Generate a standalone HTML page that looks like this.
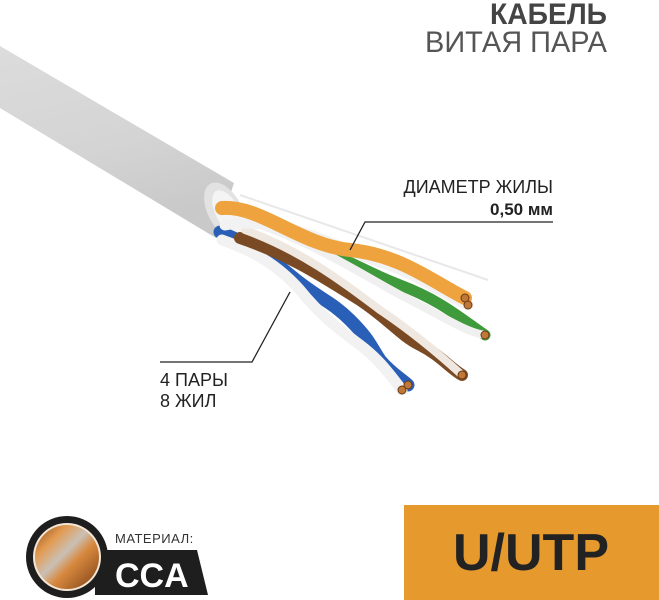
<!DOCTYPE html>
<html><head><meta charset="utf-8"><style>
body{margin:0;width:659px;height:600px;background:#fff;overflow:hidden;font-family:"Liberation Sans","DejaVu Sans",sans-serif}
svg{position:absolute;left:0;top:0}
</style></head><body>
<svg width="659" height="600" viewBox="0 0 659 600">
<defs>
<linearGradient id="jk" x1="0" y1="0" x2="0.3" y2="1">
<stop offset="0" stop-color="#dcdcdc"/><stop offset="0.6" stop-color="#d4d4d4"/><stop offset="1" stop-color="#c9c9c9"/></linearGradient>
<linearGradient id="cu" x1="0" y1="0" x2="1" y2="1">
<stop offset="0" stop-color="#8a4a1a"/><stop offset="0.25" stop-color="#e39a50"/><stop offset="0.45" stop-color="#c9c0b6"/><stop offset="0.6" stop-color="#d8893f"/><stop offset="1" stop-color="#7a3e14"/></linearGradient>
</defs>
<!-- jacket -->
<path d="M0,46 L234,183 L216,238 L0,108 Z" fill="url(#jk)"/>
<ellipse cx="225" cy="211" rx="17" ry="31" transform="rotate(-28 225 211)" fill="#e2e2e2"/>
<ellipse cx="228" cy="213" rx="12" ry="25" transform="rotate(-28 228 213)" fill="#f4f4f4"/>
<!-- rip cord -->
<path d="M240,195 L488,280" stroke="#e8e8e8" stroke-width="2" fill="none"/>
<!-- wires -->
<g fill="none" stroke-linecap="round">
<path d="M220,232 C250,245 260,250 290,275 C320,300 330,300 350,320 C370,340 370,345 380,360 C390,372 400,378 408,385" stroke="#2a5fb8" stroke-width="13"/>
<path d="M222,240 C250,250 275,262 300,290 C320,315 340,330 360,345 C380,360 390,375 402,390" stroke="#f2f2f2" stroke-width="11"/>
<path d="M240,238 C290,255 320,275 360,300 C390,320 400,335 420,345 C440,355 450,368 462,375" stroke="#7a4a24" stroke-width="12"/>
<path d="M245,230 C300,250 340,280 380,310 C410,330 440,355 462,375" stroke="#efe8e0" stroke-width="8"/>
<path d="M250,212 C310,240 350,265 400,285 C440,300 460,318 485,335" stroke="#3f9a3c" stroke-width="11"/>
<path d="M252,222 C320,245 370,280 410,300 C440,315 465,332 485,335" stroke="#f0f0f0" stroke-width="8"/>
<path d="M225,225 C280,215 330,245 380,262 C420,275 440,292 468,305" stroke="#f2f2f2" stroke-width="11"/>
<path d="M222,208 C260,205 300,245 350,250 C400,255 430,280 465,298" stroke="#eea33e" stroke-width="14"/>
</g>
<g fill="#c07838" stroke="#6a3a14" stroke-width="1">
<circle cx="465" cy="298" r="4"/><circle cx="468" cy="305" r="4"/><circle cx="485" cy="335" r="4"/>
<circle cx="462" cy="375" r="4"/><circle cx="408" cy="385" r="4"/><circle cx="402" cy="390" r="4"/></g>
<!-- leaders -->
<polyline points="553,222 365,222 350,250" stroke="#222" stroke-width="1.3" fill="none"/>
<polyline points="160,362 252,362 290,292" stroke="#222" stroke-width="1.3" fill="none"/>
<!-- texts -->
<text x="490" y="24" textLength="117" lengthAdjust="spacingAndGlyphs" font-size="30" font-weight="bold" fill="#444">КАБЕЛЬ</text>
<text x="425" y="52" textLength="182" lengthAdjust="spacingAndGlyphs" font-size="30" fill="#555">ВИТАЯ ПАРА</text>
<text x="553" y="193" text-anchor="end" font-size="18" fill="#222">ДИАМЕТР ЖИЛЫ</text>
<text x="553" y="215" text-anchor="end" font-size="17" font-weight="bold" fill="#222">0,50 мм</text>
<text x="160" y="386" font-size="18" fill="#222">4 ПАРЫ</text>
<text x="160" y="407" font-size="18" fill="#222">8 ЖИЛ</text>
<!-- orange box -->
<rect x="404" y="505" width="255" height="95" fill="#e69a2e"/>
<text x="531" y="570" text-anchor="middle" font-size="52" font-weight="bold" fill="#222">U/UTP</text>
<!-- material -->
<path d="M95,550 L197,550 L208,595 L95,595 Z" fill="#1e1e1e"/>
<circle cx="67" cy="557" r="41" fill="#1e1e1e"/>
<circle cx="67" cy="557" r="34" fill="#f4e6d4"/>
<circle cx="67" cy="557" r="32" fill="url(#cu)"/>
<text x="115" y="543" font-size="13" fill="#333" letter-spacing="0.5">МАТЕРИАЛ:</text>
<text x="115" y="587" font-size="34" font-weight="bold" fill="#fff">CCA</text>
</svg>
</body></html>
